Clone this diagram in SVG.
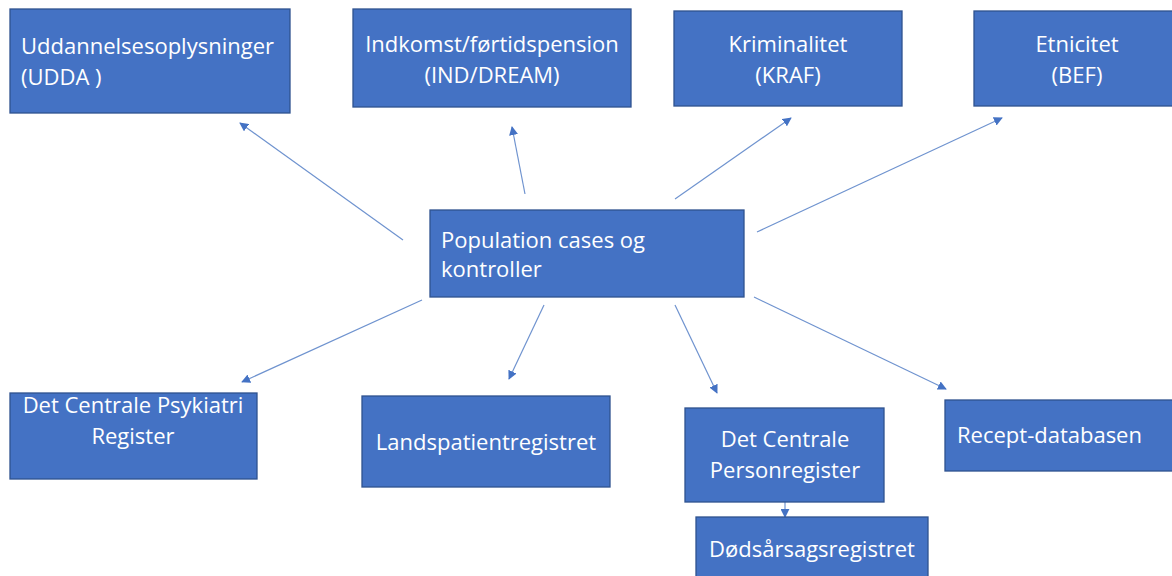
<svg xmlns="http://www.w3.org/2000/svg" width="1172" height="576" viewBox="0 0 1172 576">
<style>
.box{fill:#4472C4;stroke:#2F528F;stroke-width:1.3}
.t{font-family:"Open Sans","Noto Sans",sans-serif;font-size:22px;fill:#FFFFFF}
.c{text-anchor:middle}
.ln{stroke:#6F93CF;stroke-width:1.2;fill:none;marker-end:url(#ah)}
</style>
<defs>
<marker id="ah" viewBox="0 0 10 10" refX="9" refY="5" markerWidth="9" markerHeight="9" markerUnits="userSpaceOnUse" orient="auto">
<path d="M0,0 L10,5 L0,10 z" fill="#4472C4"/>
</marker>
</defs>
<rect width="1172" height="576" fill="#FFFFFF"/>
<g id="connectors">
<line class="ln" x1="403" y1="240" x2="240" y2="123"/>
<line class="ln" x1="525" y1="194" x2="512" y2="127"/>
<line class="ln" x1="675" y1="199" x2="791" y2="118"/>
<line class="ln" x1="757" y1="232" x2="1002" y2="118"/>
<line class="ln" x1="422" y1="300" x2="242" y2="382"/>
<line class="ln" x1="544" y1="305" x2="509" y2="379"/>
<line class="ln" x1="675" y1="305" x2="717" y2="393"/>
<line class="ln" x1="754" y1="297" x2="946" y2="389"/>
<line class="ln" x1="785" y1="502" x2="785" y2="517"/>
</g>
<g id="n-udda"><rect class="box" x="10" y="9" width="280" height="104"/><text class="t" x="21" y="54">Uddannelsesoplysninger</text><text class="t" x="21" y="85">(UDDA )</text></g>
<g id="n-ind"><rect class="box" x="353" y="9" width="278" height="98"/><text class="t c" x="492" y="52">Indkomst/førtidspension</text><text class="t c" x="492" y="83">(IND/DREAM)</text></g>
<g id="n-kraf"><rect class="box" x="674" y="11" width="228" height="95"/><text class="t c" x="788" y="52">Kriminalitet</text><text class="t c" x="788" y="83">(KRAF)</text></g>
<g id="n-bef"><rect class="box" x="974" y="11" width="205" height="95"/><text class="t c" x="1077" y="52">Etnicitet</text><text class="t c" x="1077" y="83">(BEF)</text></g>
<g id="n-pop"><rect class="box" x="430" y="210" width="314" height="87"/><text class="t" x="441" y="248">Population cases og</text><text class="t" x="441" y="277">kontroller</text></g>
<g id="n-psyk"><rect class="box" x="10" y="393" width="247" height="86"/><text class="t c" x="133" y="413">Det Centrale Psykiatri</text><text class="t c" x="133" y="444">Register</text></g>
<g id="n-lpr"><rect class="box" x="362" y="396" width="248" height="91"/><text class="t c" x="486" y="450">Landspatientregistret</text></g>
<g id="n-cpr"><rect class="box" x="685" y="408" width="199" height="94"/><text class="t c" x="785" y="447">Det Centrale</text><text class="t c" x="785" y="478">Personregister</text></g>
<g id="n-dod"><rect class="box" x="696" y="517" width="232" height="70"/><text class="t c" x="812" y="557">Dødsårsagsregistret</text></g>
<g id="n-recept"><rect class="box" x="945" y="400" width="235" height="71"/><text class="t" x="957" y="443">Recept-databasen</text></g>
</svg>
